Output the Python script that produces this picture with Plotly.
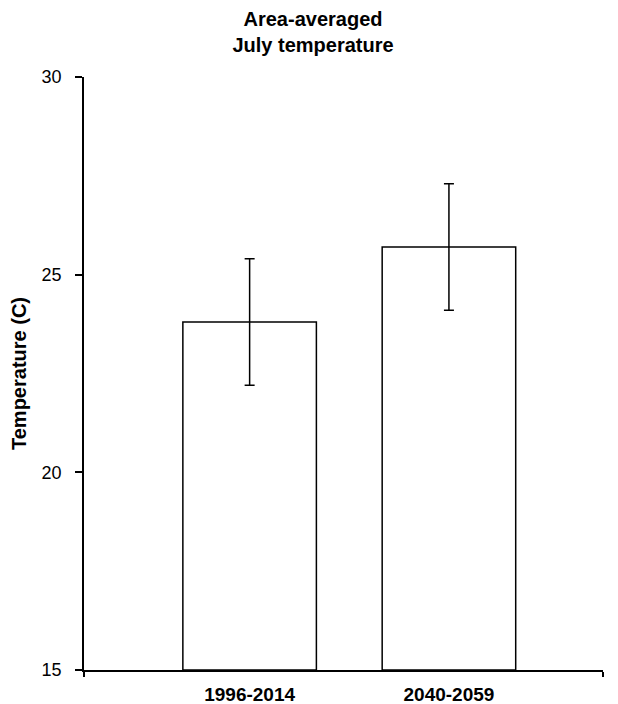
import plotly.graph_objects as go

periods = ["1996-2014", "2040-2059"]
mean_temp = [23.8, 25.7]
err_upper = [1.6, 1.6]
err_lower = [1.6, 1.6]
y_ticks = [15, 20, 25, 30]

x_pos = list(range(len(periods)))
x_range = [-0.831, 1.773]

fig = go.Figure()
fig.add_trace(go.Bar(
    x=x_pos, y=[m - 15 for m in mean_temp], base=15,
    width=0.67,
    marker=dict(color="white", line=dict(color="black", width=1.5)),
    error_y=dict(type="data", symmetric=False, array=err_upper, arrayminus=err_lower,
                 color="black", thickness=1.5, width=5),
    hoverinfo="skip",
))

fig.update_layout(
    width=610, height=696,
    margin=dict(l=76, r=15, t=69, b=34, autoexpand=False),
    paper_bgcolor="white", plot_bgcolor="white",
    showlegend=False,
    font=dict(family="Liberation Sans, Arial, sans-serif", color="black"),
    title=dict(text="<b>Area-averaged<br>July temperature</b>", x=0.5, xanchor="center",
               y=0.974, yanchor="top", font=dict(size=20)),
    xaxis=dict(range=x_range, showline=True, linecolor="black", linewidth=1.5,
               tickvals=x_pos, ticktext=["<b>%s</b>" % p for p in periods],
               ticks="", showgrid=False, zeroline=False, ticklabelstandoff=6,
               tickfont=dict(size=19), automargin=False,
               minor=dict(tickvals=x_range, ticks="outside", ticklen=5, tickwidth=1.5,
                          tickcolor="black", showgrid=False)),
    yaxis=dict(range=[15, 30], tickvals=y_ticks, showline=True, linecolor="black",
               linewidth=1.5, ticks="outside", ticklen=7, tickwidth=1.5, tickcolor="black",
               showgrid=False, zeroline=False, tickfont=dict(size=18), ticklabelstandoff=10,
               automargin=False,
               title=dict(text="<b>Temperature (C)</b>", font=dict(size=20), standoff=10)),
)

fig.write_html("out.html")
